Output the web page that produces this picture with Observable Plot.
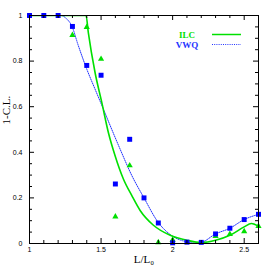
<!DOCTYPE html>
<html><head><meta charset="utf-8">
<script src="https://cdn.jsdelivr.net/npm/d3@7"></script>
<script src="https://cdn.jsdelivr.net/npm/@observablehq/plot@0.6"></script>
<style>body{margin:0;background:#fff}</style>
</head><body><div id="chart"></div>
<script>
// VWQ points (blue squares)
const vwqX = [1.0, 1.1, 1.2, 1.3, 1.4, 1.5, 1.6, 1.7, 1.8, 1.9, 2.0, 2.1, 2.2, 2.3, 2.4, 2.5, 2.6];
const vwqY = [1, 1, 1, 0.952, 0.781, 0.738, 0.261, 0.457, 0.20, 0.09, 0.003, 0.006, 0.005, 0.042, 0.067, 0.105, 0.128];
// ILC points (green triangles)
const ilcX = [1.3, 1.4, 1.5, 1.6, 1.7, 1.9, 2.0, 2.3, 2.4, 2.5, 2.6];
const ilcY = [0.914, 0.949, 0.809, 0.118, 0.342, 0.005, 0.016, 0.032, 0.041, 0.053, 0.076];
// ILC fitted curve (solid green)
const ilcCurveX = [1.0, 1.395, 1.411, 1.458, 1.505, 1.551, 1.598, 1.656, 1.715, 1.773, 1.866, 1.983, 2.10, 2.2, 2.3, 2.4, 2.5, 2.55, 2.6];
const ilcCurveY = [1, 1, 0.925, 0.75, 0.619, 0.487, 0.385, 0.283, 0.21, 0.145, 0.080, 0.036, 0.014, 0.004, 0.014, 0.036, 0.073, 0.088, 0.076];
// VWQ fitted curve (dotted blue)
const vwqCurveX = [1.0, 1.22, 1.26, 1.295, 1.34, 1.40, 1.458, 1.516, 1.575, 1.633, 1.715, 1.80, 1.90, 1.99, 2.10, 2.15, 2.2, 2.3, 2.4, 2.5, 2.6];
const vwqCurveY = [1, 1, 0.985, 0.955, 0.87, 0.765, 0.677, 0.59, 0.50, 0.414, 0.298, 0.20, 0.092, 0.036, 0.007, 0.002, 0.005, 0.042, 0.067, 0.105, 0.128];
// ticks
const xMajor = [1, 1.5, 2, 2.5];
const xMinor = [1.1, 1.2, 1.3, 1.4, 1.6, 1.7, 1.8, 1.9, 2.1, 2.2, 2.3, 2.4, 2.6];
const yMajor = [0, 0.2, 0.4, 0.6, 0.8, 1];
const yMinor = [0.05, 0.1, 0.15, 0.25, 0.3, 0.35, 0.45, 0.5, 0.55, 0.65, 0.7, 0.75, 0.85, 0.9, 0.95];
const seriesNames = ["ILC", "VWQ"];

const vwq = vwqX.map((x, i) => ({x, y: vwqY[i]}));
const ilc = ilcX.map((x, i) => ({x, y: ilcY[i]}));
const ilcCurve = ilcCurveX.map((x, i) => ({x, y: ilcCurveY[i]}));
const vwqCurve = vwqCurveX.map((x, i) => ({x, y: vwqCurveY[i]}));

const W = 273, H = 273, mL = 29, mR = 15, mT = 15, mB = 30;
const innerW = W - mL - mR, innerH = H - mT - mB;
const major = 5, minor = 3;
const GREEN = "#00e000", BLUE = "#0000ff";

const chart = Plot.plot({
  width: W, height: H,
  marginLeft: mL, marginRight: mR, marginTop: mT, marginBottom: mB,
  x: {domain: [1, 2.6]},
  y: {domain: [0, 1]},
  style: {fontFamily: "Liberation Sans", fontSize: "7px", background: "#fff", color: "#000", overflow: "visible"},
  marks: [
    Plot.line(vwqCurve, {x: "x", y: "y", stroke: "#2233ff", strokeWidth: 1, strokeDasharray: "1,1.2", curve: "monotone-x", clip: true}),
    Plot.line(ilcCurve, {x: "x", y: "y", stroke: GREEN, strokeWidth: 1.6, curve: "monotone-x", clip: true}),
    Plot.dot(ilc, {x: "x", y: "y", symbol: "triangle", r: 2.3, fill: GREEN, stroke: "none"}),
    Plot.dot(vwq, {x: "x", y: "y", symbol: "square", r: 2.8, fill: BLUE, stroke: "none"}),
    Plot.frame({stroke: "#000", strokeWidth: 1}),
    Plot.tickX(xMajor, {x: d => d, insetTop: innerH - major, stroke: "#000"}),
    Plot.tickX(xMajor, {x: d => d, insetBottom: innerH - major, stroke: "#000"}),
    Plot.tickX(xMinor, {x: d => d, insetTop: innerH - minor, stroke: "#000"}),
    Plot.tickX(xMinor, {x: d => d, insetBottom: innerH - minor, stroke: "#000"}),
    Plot.tickY(yMajor, {y: d => d, insetRight: innerW - major, stroke: "#000"}),
    Plot.tickY(yMajor, {y: d => d, insetLeft: innerW - major, stroke: "#000"}),
    Plot.tickY(yMinor, {y: d => d, insetRight: innerW - minor, stroke: "#000"}),
    Plot.tickY(yMinor, {y: d => d, insetLeft: innerW - minor, stroke: "#000"}),
    Plot.axisX({ticks: xMajor, tickSize: 0, tickPadding: 4, tickFormat: d => String(d), label: null}),
    Plot.axisY({ticks: yMajor, tickSize: 0, tickPadding: 7, tickFormat: d => String(d), label: null}),
    Plot.text(["L/L₀"], {frameAnchor: "bottom", dy: 19, text: d => d, fontFamily: "Liberation Serif", fontSize: 11}),
    Plot.text(["1-C.L."], {frameAnchor: "left", dx: -23, dy: -5, rotate: -90, text: d => d, fontFamily: "Liberation Serif", fontSize: 11})
  ]
});

// legend (upper right inside frame)
const svg = d3.select(chart);
const lg = svg.append("g").attr("font-family", "Liberation Serif").attr("font-size", 9).attr("font-weight", "bold");
const legendItems = [
  {name: seriesNames[0], color: GREEN, dash: null, width: 1.5},
  {name: seriesNames[1], color: "#2233ff", dash: "1,1.2", width: 1}
];
legendItems.forEach((it, i) => {
  const yy = 34.5 + i * 10;
  lg.append("text").attr("x", 187).attr("y", yy + 3.2).attr("fill", it.color).text(it.name);
  lg.append("line").attr("x1", 212).attr("x2", 241).attr("y1", yy).attr("y2", yy)
    .attr("stroke", it.color).attr("stroke-width", it.width).attr("stroke-dasharray", it.dash);
});
document.getElementById("chart").appendChild(chart);
</script>
</body></html>
